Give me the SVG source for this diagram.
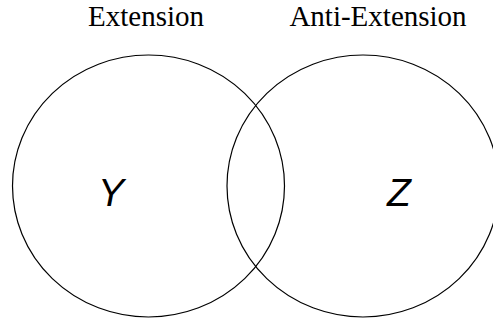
<svg xmlns="http://www.w3.org/2000/svg" width="493" height="320" viewBox="0 0 493 320">
<style>
.set{fill:none;stroke:#000;stroke-width:1.2}
.title{font-family:"Liberation Serif",serif;font-size:29px;fill:#000;text-anchor:middle}
.lbl{font-family:"Liberation Sans",sans-serif;font-style:italic;font-size:39px;fill:#000;text-anchor:middle}
</style>
<rect width="493" height="320" fill="#fff"/>
<g id="extension">
<ellipse class="set" cx="148.5" cy="186" rx="136" ry="131"/>
<text class="title" x="146" y="26">Extension</text>
<text class="lbl" x="111" y="206">Y</text>
</g>
<g id="anti-extension">
<ellipse class="set" cx="363" cy="186" rx="136" ry="131"/>
<text class="title" x="378" y="26">Anti-Extension</text>
<text class="lbl" x="399" y="206">Z</text>
</g>
</svg>
